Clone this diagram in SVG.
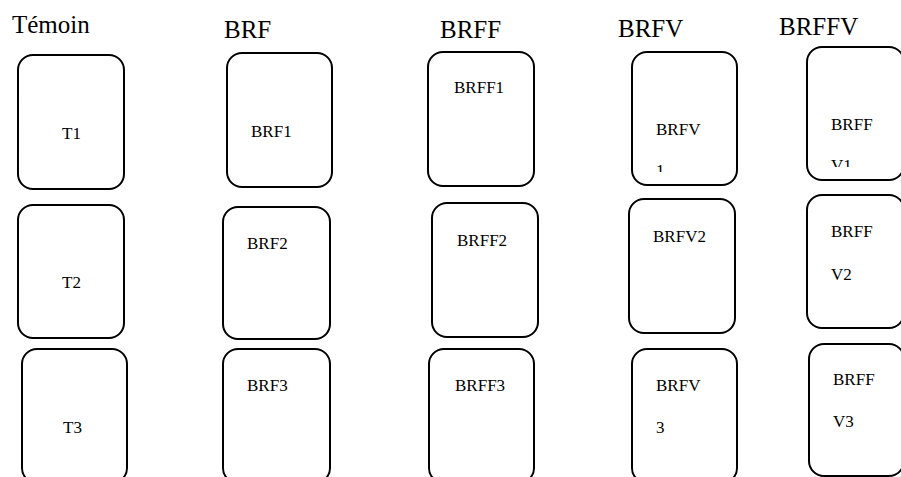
<svg xmlns="http://www.w3.org/2000/svg" width="901" height="477" viewBox="0 0 901 477" font-family="Liberation Serif, Tinos, Times New Roman, DejaVu Serif, serif">
<style>
.box{fill:#fff;stroke:#000;stroke-width:2}
.h{font-size:25px;fill:#000}
.t{font-size:17px;fill:#000}
</style>
<defs>
<clipPath id="c1"><rect x="640" y="100" width="80" height="72"/></clipPath>
<clipPath id="c2"><rect x="815" y="100" width="80" height="67"/></clipPath>
</defs>
<rect width="901" height="477" fill="#fff"/>
<g id="headings">
<text class="h" x="12" y="33">Témoin</text>
<text class="h" x="224" y="38">BRF</text>
<text class="h" x="440" y="38">BRFF</text>
<text class="h" x="618" y="37">BRFV</text>
<text class="h" x="779" y="35">BRFFV</text>
</g>
<g id="T1"><rect class="box" x="18" y="55" width="106" height="134" rx="15"/><text class="t" x="62" y="139">T1</text></g>
<g id="BRF1"><rect class="box" x="227" y="53" width="105" height="134" rx="15"/><text class="t" x="251" y="137">BRF1</text></g>
<g id="BRFF1"><rect class="box" x="428" y="52" width="106" height="134" rx="15"/><text class="t" x="454" y="93">BRFF1</text></g>
<g id="BRFV1"><rect class="box" x="632" y="52" width="105" height="133" rx="15"/><text class="t" x="656" y="135">BRFV</text><text class="t" x="656" y="176" clip-path="url(#c1)">1</text></g>
<g id="BRFFV1"><rect class="box" x="807" y="47" width="97" height="133" rx="15"/><text class="t" x="831" y="130">BRFF</text><text class="t" x="831" y="171" clip-path="url(#c2)">V1</text></g>
<g id="T2"><rect class="box" x="18" y="205" width="106" height="133" rx="15"/><text class="t" x="62" y="288">T2</text></g>
<g id="BRF2"><rect class="box" x="223" y="207" width="107" height="132" rx="15"/><text class="t" x="247" y="249">BRF2</text></g>
<g id="BRFF2"><rect class="box" x="432" y="203" width="106" height="134" rx="15"/><text class="t" x="457" y="246">BRFF2</text></g>
<g id="BRFV2"><rect class="box" x="629" y="199" width="106" height="134" rx="15"/><text class="t" x="653" y="242">BRFV2</text></g>
<g id="BRFFV2"><rect class="box" x="807" y="195" width="97" height="133" rx="15"/><text class="t" x="831" y="237">BRFF</text><text class="t" x="831" y="280">V2</text></g>
<g id="T3"><rect class="box" x="22" y="349" width="105" height="134" rx="15"/><text class="t" x="63" y="433">T3</text></g>
<g id="BRF3"><rect class="box" x="223" y="349" width="107" height="134" rx="15"/><text class="t" x="247" y="391">BRF3</text></g>
<g id="BRFF3"><rect class="box" x="429" y="349" width="105" height="134" rx="15"/><text class="t" x="455" y="391">BRFF3</text></g>
<g id="BRFV3"><rect class="box" x="632" y="349" width="105" height="134" rx="15"/><text class="t" x="656" y="391">BRFV</text><text class="t" x="656" y="433">3</text></g>
<g id="BRFFV3"><rect class="box" x="809" y="344" width="95" height="132" rx="15"/><text class="t" x="833" y="385">BRFF</text><text class="t" x="833" y="427">V3</text></g>
<g id="connectors"></g>
</svg>
